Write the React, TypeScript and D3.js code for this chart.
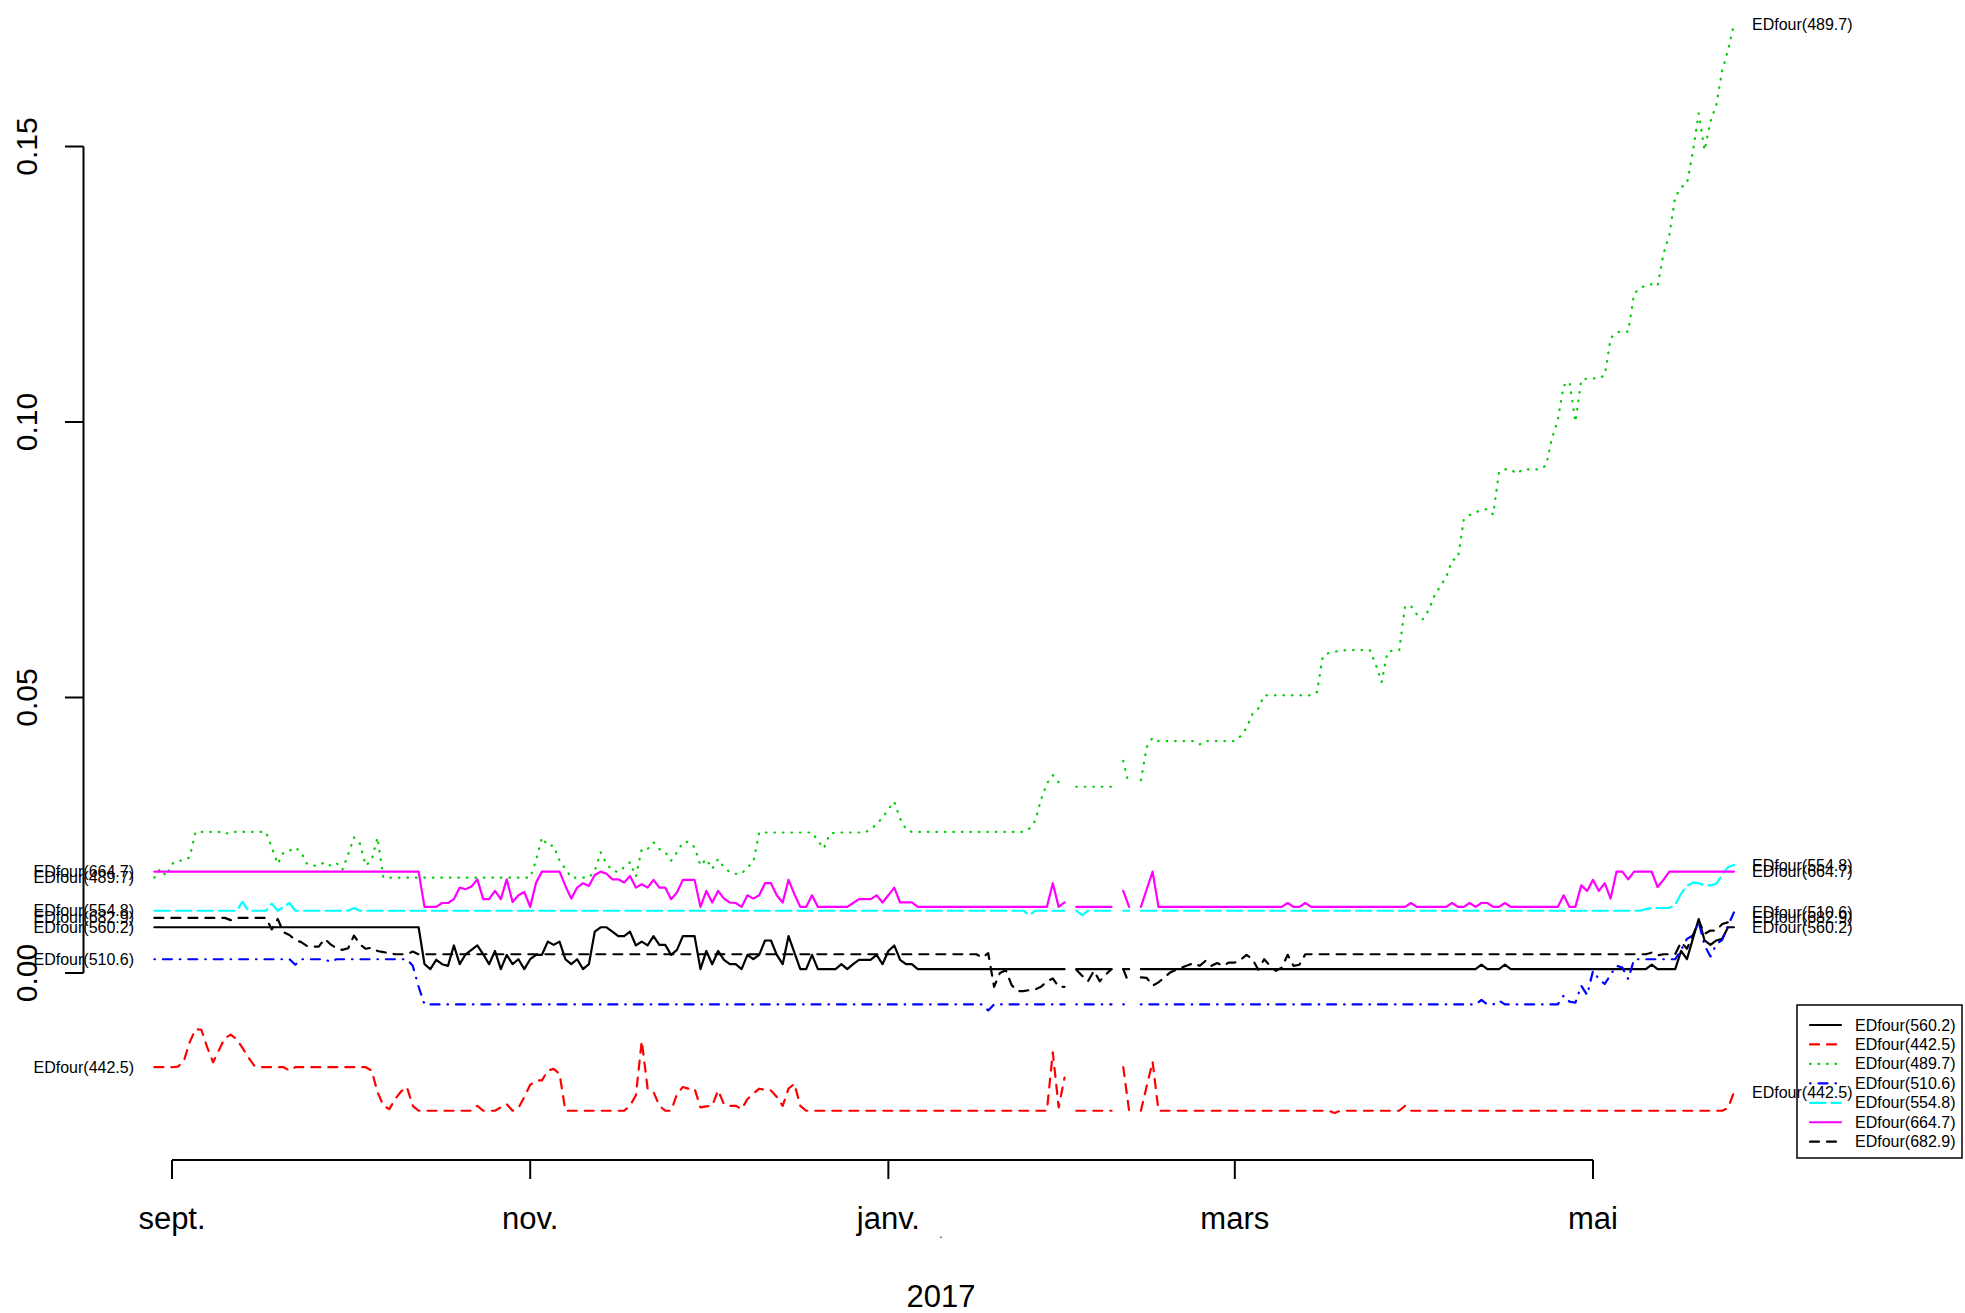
import React from 'react';
import * as d3 from 'd3';

const N = null;

// values in thousandths, one per day starting 2016-08-29
const s560 = [
8.3,8.3,8.3,8.3,8.3,8.3,8.3,8.3,8.3,8.3,
8.3,8.3,8.3,8.3,8.3,8.3,8.3,8.3,8.3,8.3,
8.3,8.3,8.3,8.3,8.3,8.3,8.3,8.3,8.3,8.3,
8.3,8.3,8.3,8.3,8.3,8.3,8.3,8.3,8.3,8.3,
8.3,8.3,8.3,8.3,8.3,8.3,1.6,0.7,2.4,1.6,
1.3,5.0,1.6,3.4,4.2,5.0,3.4,1.6,4.0,0.7,
3.3,1.6,2.5,0.7,2.5,3.3,3.3,5.7,5.1,5.7,
2.5,1.6,2.5,0.7,1.6,7.5,8.3,8.3,7.5,6.7,
6.7,7.5,5.0,5.7,5.0,6.7,5.1,5.1,3.3,4.2,
6.7,6.7,6.7,0.7,4.0,1.6,4.0,2.4,1.6,1.6,
0.7,3.3,2.5,3.3,5.9,5.9,3.3,1.6,6.7,3.7,
0.7,0.7,3.3,0.7,0.7,0.7,0.7,1.6,0.7,1.6,
2.4,2.4,2.4,3.3,1.6,4.0,5.0,2.4,1.6,1.6,
0.7,0.7,0.7,0.7,0.7,0.7,0.7,0.7,0.7,0.7,
0.7,0.7,0.7,0.7,0.7,0.7,0.7,0.7,0.7,0.7,
0.7,0.7,0.7,0.7,0.7,0.7,N,0.7,0.7,0.7,
0.7,0.7,0.7,0.7,N,0.7,0.7,N,0.7,0.7,
0.7,0.7,0.7,0.7,0.7,0.7,0.7,0.7,0.7,0.7,
0.7,0.7,0.7,0.7,0.7,0.7,0.7,0.7,0.7,0.7,
0.7,0.7,0.7,0.7,0.7,0.7,0.7,0.7,0.7,0.7,
0.7,0.7,0.7,0.7,0.7,0.7,0.7,0.7,0.7,0.7,
0.7,0.7,0.7,0.7,0.7,0.7,0.7,0.7,0.7,0.7,
0.7,0.7,0.7,0.7,0.7,0.7,1.5,0.7,0.7,0.7,
1.5,0.7,0.7,0.7,0.7,0.7,0.7,0.7,0.7,0.7,
0.7,0.7,0.7,0.7,0.7,0.7,0.7,0.7,0.7,0.7,
0.7,0.7,0.7,0.7,0.7,1.5,0.7,0.7,0.7,0.7,
4.0,2.5,6.2,9.8,5.9,5.1,5.9,6.2,8.3,8.3
];

const s442 = [
-17.1,-17.1,-17.1,-17.1,-17.0,-16.0,-12.6,-10.2,-10.3,-13.5,
-16.2,-14.0,-11.8,-11.2,-12.0,-13.6,-15.3,-16.8,-17.1,-17.1,
-17.1,-17.1,-17.1,-17.7,-17.1,-17.1,-17.1,-17.1,-17.1,-17.1,
-17.1,-17.1,-17.1,-17.1,-17.1,-17.1,-17.1,-17.7,-21.6,-24.1,
-24.7,-22.9,-21.5,-20.7,-24.1,-25,-25,-25,-25,-25,
-25,-25,-25,-25,-25,-24.1,-25,-25,-25,-24.4,
-23.8,-25,-24.5,-22.5,-20.3,-19.5,-19.5,-17.7,-17.4,-18.3,
-25,-25,-25,-25,-25,-25,-25,-25,-25,-25,
-25,-24.1,-22.2,-12.3,-21.0,-21.6,-24.1,-25,-25,-22.0,
-20.7,-21.0,-21.0,-24.4,-24.2,-24.1,-21.3,-23.8,-24.1,-24.1,
-24.7,-22.9,-21.9,-21.0,-21.2,-21.3,-22.5,-24.1,-21.0,-20.1,
-24.1,-25,-25,-25,-25,-25,-25,-25,-25,-25,
-25,-25,-25,-25,-25,-25,-25,-25,-25,-25,
-25,-25,-25,-25,-25,-25,-25,-25,-25,-25,
-25,-25,-25,-25,-25,-25,-25,-25,-25,-25,
-25,-25,-25,-14.4,-24.4,-19.0,N,-25,-25,-25,
-25,-25,-25,-25,N,-17.1,-25,N,-25,-20.5,
-16.1,-25,-25,-25,-25,-25,-25,-25,-25,-25,
-25,-25,-25,-25,-25,-25,-25,-25,-25,-25,
-25,-25,-25,-25,-25,-25,-25,-25,-25,-25,
-25,-25.4,-25,-25,-25,-25,-25,-25,-25,-25,
-25,-25,-25,-24.1,-25,-25,-25,-25,-25,-25,
-25,-25,-25,-25,-25,-25,-25,-25,-25,-25,
-25,-25,-25,-25,-25,-25,-25,-25,-25,-25,
-25,-25,-25,-25,-25,-25,-25,-25,-25,-25,
-25,-25,-25,-25,-25,-25,-25,-25,-25,-25,
-25,-25,-25,-25,-25,-25,-25,-25,-24.5,-21.6
];

const s489 = [
17.3,18.9,17.6,19.8,20.4,20.4,21.0,25.6,25.6,25.6,
25.6,25.6,25.2,25.6,25.6,25.6,25.6,25.6,25.6,25.6,
22.8,19.8,21.9,22.2,22.8,21.9,19.8,19.5,19.5,20.1,
19.5,20.0,18.7,21.5,24.6,23.5,19.5,20.5,24.6,17.3,
17.3,17.3,17.3,17.3,17.3,17.3,17.3,17.3,17.3,17.3,
17.3,17.3,17.3,17.3,17.3,17.3,17.3,17.3,17.3,17.3,
17.3,17.3,17.3,17.3,17.3,20.4,24.6,23.1,23.1,20.4,
18.9,17.3,17.3,17.3,17.3,18.5,21.9,19.8,18.6,18.3,
19.2,20.1,17.5,22.5,22.5,23.7,22.5,21.9,20.4,21.9,
23.7,23.8,22.8,19.5,20.7,18.9,20.7,19.2,18.3,18.0,
18.0,19.2,20.1,25.5,25.5,25.5,25.5,25.5,25.5,25.5,
25.5,25.5,25.5,24.0,22.6,25.2,25.5,25.5,25.5,25.5,
25.5,25.5,26.1,27.0,28.2,29.7,31.1,28.0,26.1,25.6,
25.6,25.6,25.6,25.6,25.6,25.6,25.6,25.6,25.6,25.6,
25.6,25.6,25.6,25.6,25.6,25.6,25.6,25.6,25.6,26.2,
27.6,31.5,34.4,35.9,34.6,33.8,N,33.8,33.8,33.8,
33.8,33.8,33.8,33.8,N,38.5,34.0,N,35.0,41.0,
42.7,42.1,42.1,42.1,42.1,42.1,42.1,42.1,41.5,42.1,
42.1,42.1,42.1,42.1,42.1,43.0,44.5,47.0,48.0,50.4,
50.4,50.4,50.4,50.4,50.4,50.4,50.4,50.4,51.0,57.5,
58.1,58.3,58.5,58.6,58.6,58.6,58.6,58.6,56.0,52.8,
58.2,58.6,58.6,66.6,66.6,65.1,64.2,65.8,68.5,70.2,
71.8,74.9,75.3,82.3,83.1,83.6,84.0,84.2,83.2,90.9,
91.4,91.4,90.6,91.4,91.4,91.4,91.4,92.1,97.0,100.3,
106.6,107.3,100.0,107.6,107.9,107.9,107.9,108.5,115.2,116.3,
116.4,116.4,123.3,124.3,124.8,125.0,124.7,130.5,134.0,140.8,
142.6,143.2,149.0,156.0,149.3,154.5,157.6,163.8,167.5,172.2
];

const s510 = [
2.5,2.5,2.5,2.5,2.5,2.5,2.5,2.5,2.5,2.5,
2.5,2.5,2.5,2.5,2.5,2.5,2.5,2.5,2.5,2.5,
2.5,2.5,2.5,2.5,1.5,2.5,2.5,2.5,2.5,2.5,
2.0,2.5,2.5,2.5,2.5,2.5,2.5,2.5,2.5,2.5,
2.5,2.5,2.5,2.5,1.3,-2.5,-5.7,-5.7,-5.7,-5.7,
-5.7,-5.7,-5.7,-5.7,-5.7,-5.7,-5.7,-5.7,-5.7,-5.7,
-5.7,-5.7,-5.7,-5.7,-5.7,-5.7,-5.7,-5.7,-5.7,-5.7,
-5.7,-5.7,-5.7,-5.7,-5.7,-5.7,-5.7,-5.7,-5.7,-5.7,
-5.7,-5.7,-5.7,-5.7,-5.7,-5.7,-5.7,-5.7,-5.7,-5.7,
-5.7,-5.7,-5.7,-5.7,-5.7,-5.7,-5.7,-5.7,-5.7,-5.7,
-5.7,-5.7,-5.7,-5.7,-5.7,-5.7,-5.7,-5.7,-5.7,-5.7,
-5.7,-5.7,-5.7,-5.7,-5.7,-5.7,-5.7,-5.7,-5.7,-5.7,
-5.7,-5.7,-5.7,-5.7,-5.7,-5.7,-5.7,-5.7,-5.7,-5.7,
-5.7,-5.7,-5.7,-5.7,-5.7,-5.7,-5.7,-5.7,-5.7,-5.7,
-5.7,-5.7,-6.8,-5.7,-5.7,-5.7,-5.7,-5.7,-5.7,-5.7,
-5.7,-5.7,-5.7,-5.7,-5.7,-5.7,N,-5.7,-5.7,-5.7,
-5.7,-5.7,-5.7,-5.7,N,-5.7,-5.7,N,-5.7,-5.7,
-5.7,-5.7,-5.7,-5.7,-5.7,-5.7,-5.7,-5.7,-5.7,-5.7,
-5.7,-5.7,-5.7,-5.7,-5.7,-5.7,-5.7,-5.7,-5.7,-5.7,
-5.7,-5.7,-5.7,-5.7,-5.7,-5.7,-5.7,-5.7,-5.7,-5.7,
-5.7,-5.7,-5.7,-5.7,-5.7,-5.7,-5.7,-5.7,-5.7,-5.7,
-5.7,-5.7,-5.7,-5.7,-5.7,-5.7,-5.7,-5.7,-5.7,-5.7,
-5.7,-5.7,-5.7,-5.7,-5.7,-5.7,-4.9,-5.7,-5.7,-5.0,
-5.7,-5.7,-5.7,-5.7,-5.7,-5.7,-5.7,-5.7,-5.7,-5.7,
-4.1,-5.2,-5.4,-2.3,-4.0,0.4,-1.1,-2.0,-0.3,1.3,
1.0,-1.1,2.5,2.5,2.5,2.5,2.5,2.5,2.5,2.5,
4.2,6.2,6.8,9.2,5.0,3.0,5.2,6.0,8.6,11.0
];

const s554 = [
11.3,11.3,11.3,11.3,11.3,11.3,11.3,11.3,11.3,11.3,
11.3,11.3,11.3,11.3,11.3,12.9,11.3,11.3,11.3,11.3,
12.6,11.3,12.0,12.7,11.3,11.3,11.3,11.3,11.3,11.3,
11.3,11.3,11.3,11.3,11.8,11.3,11.3,11.3,11.3,11.3,
11.3,11.3,11.3,11.3,11.3,11.3,11.3,11.3,11.3,11.3,
11.3,11.3,11.3,11.3,11.3,11.3,11.3,11.3,11.3,11.3,
11.3,11.3,11.3,11.3,11.3,11.3,11.3,11.3,11.3,11.3,
11.3,11.3,11.3,11.3,11.3,11.3,11.3,11.3,11.3,11.3,
11.3,11.3,11.3,11.3,11.3,11.3,11.3,11.3,11.3,11.3,
11.3,11.3,11.3,11.3,11.3,11.3,11.3,11.3,11.3,11.3,
11.3,11.3,11.3,11.3,11.3,11.3,11.3,11.3,11.3,11.3,
11.3,11.3,11.3,11.3,11.3,11.3,11.3,11.3,11.3,11.3,
11.3,11.3,11.3,11.3,11.3,11.3,11.3,11.3,11.3,11.3,
11.3,11.3,11.3,11.3,11.3,11.3,11.3,11.3,11.3,11.3,
11.3,11.3,11.3,11.3,11.3,11.3,11.3,11.3,11.3,10.5,
11.3,11.3,11.3,11.3,11.3,11.3,N,11.3,10.5,11.3,
11.3,11.3,11.3,11.3,N,11.3,11.3,N,11.3,11.3,
11.3,11.3,11.3,11.3,11.3,11.3,11.3,11.3,11.3,11.3,
11.3,11.3,11.3,11.3,11.3,11.3,11.3,11.3,11.3,11.3,
11.3,11.3,11.3,11.3,11.3,11.3,11.3,11.3,11.3,11.3,
11.3,11.3,11.3,11.3,11.3,11.3,11.3,11.3,11.3,11.3,
11.3,11.3,11.3,11.3,11.3,11.3,11.3,11.3,11.3,11.3,
11.3,11.3,11.3,11.3,11.3,11.3,11.3,11.3,11.3,11.3,
11.3,11.3,11.3,11.3,11.3,11.3,11.3,11.3,11.3,11.3,
11.3,11.3,11.3,11.3,11.3,11.3,11.3,11.3,11.3,11.3,
11.3,11.3,11.3,11.3,11.6,11.8,11.8,11.8,11.8,12.4,
14.4,15.8,16.4,16.3,15.9,15.9,16.2,17.8,19.2,19.6
];

const s664 = [
18.4,18.4,18.4,18.4,18.4,18.4,18.4,18.4,18.4,18.4,
18.4,18.4,18.4,18.4,18.4,18.4,18.4,18.4,18.4,18.4,
18.4,18.4,18.4,18.4,18.4,18.4,18.4,18.4,18.4,18.4,
18.4,18.4,18.4,18.4,18.4,18.4,18.4,18.4,18.4,18.4,
18.4,18.4,18.4,18.4,18.4,18.4,12.0,12.0,12.0,12.7,
12.7,13.4,15.5,15.2,15.7,17.0,13.4,13.4,14.9,13.4,
17.0,12.9,14.1,14.7,12.0,16.4,18.4,18.4,18.4,18.4,
15.8,13.5,15.5,16.3,15.8,17.8,18.4,18.0,17.0,17.0,
16.4,17.6,15.5,16.1,15.5,16.9,15.5,15.5,13.4,14.6,
16.9,16.9,16.9,12.0,14.9,12.8,14.9,13.5,12.8,12.7,
12.0,14.1,13.5,14.1,16.3,16.3,14.1,12.8,16.9,14.3,
12.0,12.0,14.1,12.0,12.0,12.0,12.0,12.0,12.0,12.7,
13.4,13.4,13.4,14.1,12.8,14.1,15.5,12.8,12.8,12.8,
12.0,12.0,12.0,12.0,12.0,12.0,12.0,12.0,12.0,12.0,
12.0,12.0,12.0,12.0,12.0,12.0,12.0,12.0,12.0,12.0,
12.0,12.0,12.0,16.3,12.0,12.8,N,12.0,12.0,12.0,
12.0,12.0,12.0,12.0,N,14.9,12.0,N,12.0,15.2,
18.4,12.0,12.0,12.0,12.0,12.0,12.0,12.0,12.0,12.0,
12.0,12.0,12.0,12.0,12.0,12.0,12.0,12.0,12.0,12.0,
12.0,12.0,12.0,12.7,12.0,12.0,12.7,12.0,12.0,12.0,
12.0,12.0,12.0,12.0,12.0,12.0,12.0,12.0,12.0,12.0,
12.0,12.0,12.0,12.0,12.7,12.0,12.0,12.0,12.0,12.0,
12.0,12.7,12.0,12.0,12.7,12.0,12.7,12.7,12.0,12.0,
12.7,12.0,12.0,12.0,12.0,12.0,12.0,12.0,12.0,12.0,
14.1,12.0,12.0,15.9,14.9,16.9,14.9,16.3,13.5,18.4,
18.4,17.0,18.4,18.4,18.4,18.4,15.6,16.9,18.4,18.4,
18.4,18.4,18.4,18.4,18.4,18.4,18.4,18.4,18.4,18.4
];

const s682 = [
10.0,10.0,10.0,10.0,10.0,10.0,10.0,10.0,10.0,10.0,
10.0,10.0,10.0,9.6,10.0,10.0,10.0,10.0,10.0,10.0,
7.9,9.8,7.4,6.9,6.0,5.6,4.9,4.8,4.8,6.2,
5.2,4.5,4.2,4.5,6.8,5.2,4.4,4.6,4.0,3.8,
3.6,3.4,3.4,3.4,3.9,3.4,3.4,3.4,3.4,3.4,
3.4,3.4,3.4,3.4,3.4,3.4,3.4,3.4,3.4,3.4,
3.4,3.4,3.4,3.4,3.4,3.4,3.4,3.4,3.4,3.4,
3.4,3.4,3.4,3.4,3.4,3.4,3.4,3.4,3.4,3.4,
3.4,3.4,3.4,3.4,3.4,3.4,3.4,3.4,3.4,3.4,
3.4,3.4,3.4,3.4,3.4,3.4,3.4,3.4,3.4,3.4,
3.4,3.4,3.4,3.4,3.4,3.4,3.4,3.4,3.4,3.4,
3.4,3.4,3.4,3.4,3.4,3.4,3.4,3.4,3.4,3.4,
3.4,3.4,3.4,3.4,3.4,3.4,3.4,3.4,3.4,3.4,
3.4,3.4,3.4,3.4,3.4,3.4,3.4,3.4,3.4,3.4,
3.4,2.8,3.6,-2.5,0.0,0.5,-2.2,-3.3,-3.3,-3.1,
-3.0,-2.5,-1.5,-1.0,-2.5,-2.5,N,0.6,-0.5,-1.5,
0.4,-1.5,-0.3,0.7,N,0.7,-2.0,N,-0.8,-0.9,
-2.3,-1.7,-0.8,0.1,0.6,1.0,1.4,1.8,1.3,2.2,
1.3,1.8,1.3,1.9,1.9,2.4,3.3,2.5,0.6,2.5,
1.3,0.4,1.0,3.3,1.3,1.5,3.4,3.4,3.4,3.4,
3.4,3.4,3.4,3.4,3.4,3.4,3.4,3.4,3.4,3.4,
3.4,3.4,3.4,3.4,3.4,3.4,3.4,3.4,3.4,3.4,
3.4,3.4,3.4,3.4,3.4,3.4,3.4,3.4,3.4,3.4,
3.4,3.4,3.4,3.4,3.4,3.4,3.4,3.4,3.4,3.4,
3.4,3.4,3.4,3.4,3.4,3.4,3.4,3.4,3.4,3.4,
3.4,3.4,3.4,3.4,3.4,3.7,3.2,3.4,3.4,3.4,
5.6,4.4,6.8,9.5,7.1,7.7,7.7,8.9,9.2,10.0
];

const seriesNames = ['EDfour(560.2)', 'EDfour(442.5)', 'EDfour(489.7)', 'EDfour(510.6)', 'EDfour(554.8)', 'EDfour(664.7)', 'EDfour(682.9)'];
const seriesValues = [s560, s442, s489, s510, s554, s664, s682];
const seriesColors = ['#000000', '#FF0000', '#00CD00', '#0000FF', '#00FFFF', '#FF00FF', '#000000'];
const seriesDash = ['none', '9,8', '0.6,7.9', '0.6,7.9,9,7.9', '15.5,6', 'none', '9,8'];

const startDay = Date.UTC(2016, 7, 29);
const xTickDates = [Date.UTC(2016, 8, 1), Date.UTC(2016, 10, 1), Date.UTC(2017, 0, 1), Date.UTC(2017, 2, 1), Date.UTC(2017, 4, 1)];
const xTickLabels = ['sept.', 'nov.', 'janv.', 'mars', 'mai'];
const yTicks = [0, 0.05, 0.1, 0.15];
const yTickLabels = ['0.00', '0.05', '0.10', '0.15'];
const xTitle = '2017';

const FONT = '"Liberation Sans", Arial, Helvetica, sans-serif';

export default function App() {
  const W = 1965, H = 1313;
  const x = d3.scaleUtc().domain([new Date(xTickDates[0]), new Date(xTickDates[4])]).range([172, 1593]);
  const y = d3.scaleLinear().domain([0, 0.15]).range([973, 146.5]);
  const n = s560.length;
  const dates = d3.range(n).map(i => new Date(startDay + i * 86400000));
  const line = d3.line<number | null>()
    .defined(d => d !== null && d !== undefined)
    .x((_, i) => x(dates[i]))
    .y(d => y((d as number) / 1000));

  const xAxisY = 1160;
  const yAxisX = 83.5;
  const lw = 2.2;

  const firstVal = (arr: (number | null)[]) => arr.find(v => v !== null) as number;
  const lastVal = (arr: (number | null)[]) => { for (let i = arr.length - 1; i >= 0; i--) if (arr[i] !== null) return arr[i] as number; return 0; };

  const legX = 1797, legY = 1005, legW = 165, legH = 153;
  const legRow0 = 1025, legStep = 19.45;

  return (
    <svg width={W} height={H} style={{ position: 'absolute', left: 0, top: 0, background: '#fff' }} fontFamily={FONT}>
      <rect x={0} y={0} width={W} height={H} fill="#fff" />
      {seriesValues.map((vals, k) => (
        <path key={k} d={line(vals) || ''} fill="none" stroke={seriesColors[k]} strokeWidth={lw}
          strokeDasharray={seriesDash[k]} strokeLinecap="round" strokeLinejoin="round" />
      ))}
      {/* Y axis */}
      <line x1={yAxisX} x2={yAxisX} y1={y(0)} y2={y(0.15)} stroke="#000" strokeWidth={2} />
      {yTicks.map((t, k) => (
        <g key={k}>
          <line x1={yAxisX - 18.5} x2={yAxisX} y1={y(t)} y2={y(t)} stroke="#000" strokeWidth={2} />
          <text transform={`translate(37,${y(t)}) rotate(-90)`} textAnchor="middle" fontSize={30} fill="#000">{yTickLabels[k]}</text>
        </g>
      ))}
      {/* X axis */}
      <line x1={x(new Date(xTickDates[0]))} x2={x(new Date(xTickDates[4]))} y1={xAxisY} y2={xAxisY} stroke="#000" strokeWidth={2} />
      {xTickDates.map((t, k) => (
        <g key={k}>
          <line x1={x(new Date(t))} x2={x(new Date(t))} y1={xAxisY} y2={xAxisY + 19} stroke="#000" strokeWidth={2} />
          <text x={x(new Date(t))} y={1229} textAnchor="middle" fontSize={31} fill="#000">{xTickLabels[k]}</text>
        </g>
      ))}
      <text x={941} y={1306.5} textAnchor="middle" fontSize={31} fill="#000">{xTitle}</text>
      <text x={941} y={1238} textAnchor="middle" fontSize={12} fill="#000">.</text>
      {/* Legend */}
      <rect x={legX} y={legY} width={legW} height={legH} fill="#fff" stroke="#000" strokeWidth={1.5} />
      {seriesNames.map((name, k) => (
        <g key={k}>
          <line x1={1810} x2={1841} y1={legRow0 + k * legStep} y2={legRow0 + k * legStep}
            stroke={seriesColors[k]} strokeWidth={lw} strokeDasharray={seriesDash[k]} strokeLinecap="round" />
          <text x={1855} y={legRow0 + k * legStep} dominantBaseline="central" fontSize={16} fill="#000">{name}</text>
        </g>
      ))}
      {/* Start / end labels */}
      {seriesNames.map((name, k) => (
        <text key={'l' + k} x={134} y={y(firstVal(seriesValues[k]) / 1000)} textAnchor="end" dominantBaseline="central" fontSize={16} fill="#000">{name}</text>
      ))}
      {seriesNames.map((name, k) => (
        <text key={'r' + k} x={1752} y={y(lastVal(seriesValues[k]) / 1000)} textAnchor="start" dominantBaseline="central" fontSize={16} fill="#000">{name}</text>
      ))}
    </svg>
  );
}
